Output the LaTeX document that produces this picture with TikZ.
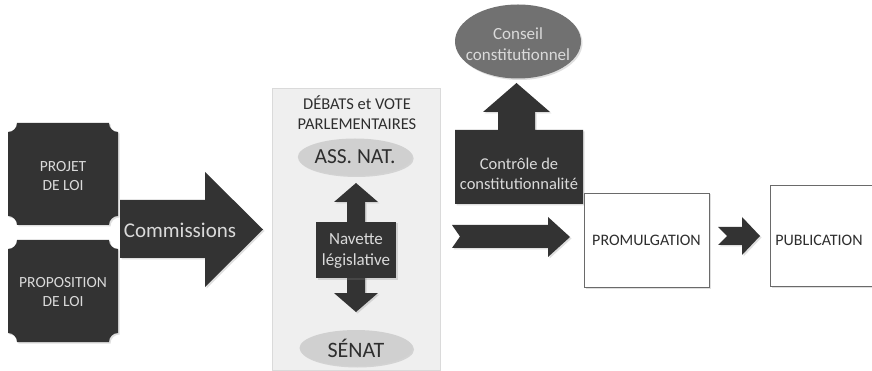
\documentclass[tikz,border=0pt]{standalone}
\usepackage{fontspec}
\setmainfont{Carlito}
\usetikzlibrary{shadows,shapes.geometric}
\definecolor{dark}{HTML}{333333}
\definecolor{lighttext}{HTML}{DADADA}
\definecolor{panel}{HTML}{EFEFEF}
\definecolor{panelborder}{HTML}{DADADA}
\definecolor{ellfill}{HTML}{D0D0D0}
\definecolor{conseil}{HTML}{717171}
\definecolor{boxborder}{HTML}{6A6A6A}
\definecolor{darktext}{HTML}{2E2E2E}
\newcommand\myfs[2]{\fontsize{#1}{#2}\selectfont}
\begin{document}
\begin{tikzpicture}[x=1pt,y=-1pt,
  shd/.style={drop shadow={opacity=0.25,shadow xshift=1.5pt,shadow yshift=-1.5pt}},
  darkshape/.style={fill=dark,shd},
  lbl/.style={text=lighttext,align=center,inner sep=0pt},
  dlbl/.style={text=darktext,align=center,inner sep=0pt},
  oval/.style={ellipse,fill=ellfill,inner sep=0pt,text=darktext,shd},
  whitebox/.style={rectangle,draw=boxborder,line width=0.9pt,fill=white,inner sep=0pt,text=darktext,shd}]
\path[use as bounding box,clip] (0,0) rectangle (872,371);
\fill[white] (0,0) rectangle (872,371);

% left plaques
\path[darkshape] (17,123) -- (109,123) .. controls (109,128) and (113,132) .. (118,132) -- (118,216) .. controls (113,216) and (109,220) .. (109,225) -- (17,225) .. controls (17,220) and (13,216) .. (8,216) -- (8,132) .. controls (13,132) and (17,128) .. (17,123) -- cycle;
\node[lbl,font=\myfs{15.5}{18.5}] (projet) at (63,176) {PROJET\\DE LOI};
\path[darkshape] (17,240) -- (109,240) .. controls (109,245) and (113,249) .. (118,249) -- (118,333) .. controls (113,333) and (109,337) .. (109,342) -- (17,342) .. controls (17,337) and (13,333) .. (8,333) -- (8,249) .. controls (13,249) and (17,245) .. (17,240) -- cycle;
\node[lbl,font=\myfs{15.5}{19.5}] (proposition) at (63,292) {PROPOSITION\\DE LOI};

% Commissions arrow
\path[darkshape] (120,200) -- (205,200) -- (205,172) -- (263,229.5) -- (205,287) -- (205,258) -- (120,258) -- cycle;
\node[lbl,font=\myfs{21}{24}] (commissions) at (180,230) {Commissions};

% panel
\path[fill=panel,draw=panelborder,line width=0.8pt] (272,88) rectangle (440,370);
\node[dlbl,font=\myfs{16.5}{20}] (debats) at (357,113) {DÉBATS et VOTE\\PARLEMENTAIRES};
\node[oval,minimum width=114pt,minimum height=37pt,font=\myfs{21.5}{24}] (ass) at (355,157) {ASS. NAT.};
\node[oval,minimum width=113pt,minimum height=36pt,font=\myfs{22}{24}] (senat) at (356,348) {SÉNAT};

% double arrow
\path[darkshape] (356,183) -- (378,202) -- (365,202) -- (365,293) -- (378,293) -- (356,312) -- (334,293) -- (347,293) -- (347,202) -- (334,202) -- cycle;
\node[rectangle,fill=dark,minimum width=80pt,minimum height=56pt,inner sep=0pt,shd] (navbox) at (356,250) {};
\node[lbl,font=\myfs{17}{21}] (navette) at (356,251) {Navette\\législative};

% Conseil constitutionnel
\node[ellipse,fill=conseil,minimum width=126pt,minimum height=74pt,inner sep=0pt,shd] (conseil) at (518,41.5) {};
\node[lbl,font=\myfs{17}{21}] (conseiltxt) at (518,44.5) {Conseil\\constitutionnel};

% up arrow callout
\path[darkshape] (516.5,83) -- (550,112) -- (535,112) -- (535,130) -- (583,130) -- (583,204) -- (455,204) -- (455,130) -- (498,130) -- (498,112) -- (483,112) -- cycle;
\node[lbl,font=\myfs{16.5}{20}] (controle) at (519,174) {Contrôle de\\constitutionnalité};

% notched arrows
\path[darkshape] (452,225) -- (548,225) -- (548,217) -- (570,237) -- (548,257) -- (548,248) -- (452,248) -- (460,236.5) -- cycle;
\node[whitebox,minimum width=125pt,minimum height=94pt,font=\myfs{16}{19}] (promul) at (646.5,240) {PROMULGATION};
\path[darkshape] (718,227) -- (742,227) -- (742,217) -- (760,236) -- (742,255) -- (742,245) -- (718,245) -- (727,236) -- cycle;
\node[whitebox,minimum width=130pt,minimum height=101pt] (pubbox) at (835,235.5) {};
\node[dlbl,font=\myfs{16}{19}] (publication) at (819,240) {PUBLICATION};
\end{tikzpicture}
\end{document}
